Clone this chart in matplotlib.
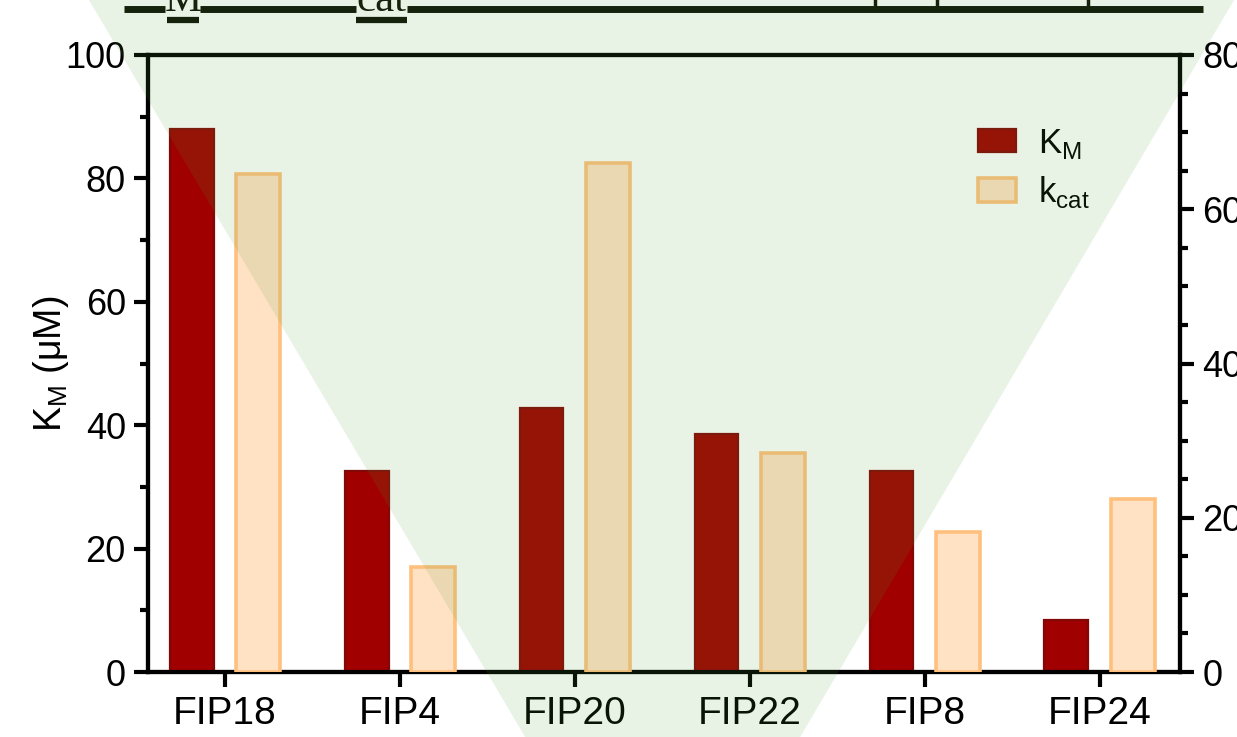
import numpy as np
import matplotlib
matplotlib.use("Agg")
from matplotlib import pyplot as plt
from matplotlib.patches import Polygon

plt.rcParams["font.family"] = ["Liberation Sans", "DejaVu Sans"]
plt.rcParams["mathtext.fontset"] = "custom"
plt.rcParams["mathtext.rm"] = "Liberation Sans"

c_km = "#A00000"
c_km_edge = "#820806"
c_kcat = "#FFE1C3"
c_kcat_edge = "#FFC07E"
c_shade = "#57A037"

variants = ["FIP18", "FIP4", "FIP20", "FIP22", "FIP8", "FIP24"]
km = [88.0, 32.6, 42.8, 38.6, 32.6, 8.4]        # K_M, uM (left axis)
kcat = [64.6, 13.6, 66.0, 28.4, 18.2, 22.4]     # k_cat (right axis)

W, H = 1237, 737
fig = plt.figure(figsize=(W / 100, H / 100), dpi=100)

def px(x, y):
    return (x / W, 1 - y / H)

ax = fig.add_axes([148 / W, 1 - 672 / H, (1180 - 148) / W, (672 - 55) / H])
ax2 = ax.twinx()

x = np.arange(len(variants))
bw = 0.25
off = 0.19
ax.bar(x - off, km, width=bw, color=c_km, edgecolor=c_km_edge, linewidth=1.6,
       label=r"K$_\mathregular{M}$", zorder=3)
ax2.bar(x + off, kcat, width=bw, color=c_kcat, edgecolor=c_kcat_edge, linewidth=2.6,
        label=r"k$_\mathregular{cat}$", zorder=3)

ax.set_xlim(-0.44, len(variants) - 1 + 0.46)
ax.set_ylim(0, 100)
ax2.set_ylim(0, 80)
ax.set_yticks(np.arange(0, 101, 20))
ax.set_yticks(np.arange(0, 101, 10), minor=True)
ax2.set_yticks(np.arange(0, 81, 20))
ax2.set_yticks(np.arange(0, 81, 5), minor=True)
ax.set_xticks(x)
ax.set_xticklabels(variants)

for a in (ax, ax2):
    for s in a.spines.values():
        s.set_linewidth(3)
    a.tick_params(which="major", length=10, width=3, labelsize=26, pad=6)
    a.tick_params(which="minor", length=6, width=3)
ax.tick_params(axis="x", length=11, labelsize=28)

ax.set_ylabel(r"K$_\mathregular{M}$ ($\mathregular{\mu}$M)", fontsize=27, labelpad=-4)

h1, l1 = ax.get_legend_handles_labels()
h2, l2 = ax2.get_legend_handles_labels()
ax2.legend(h1 + h2, l1 + l2, loc="upper left", bbox_to_anchor=(0.787, 0.912),
           frameon=False, fontsize=25, handlelength=1.1, handleheight=0.68,
           handletextpad=0.65, labelspacing=0.38, borderpad=0)

# strip of the panel above, cut off at the top edge
line_y = 8.5
for x0, x1 in [(124, 165), (200, 356), (407, 1203)]:
    fig.add_artist(plt.Line2D([x0 / W, x1 / W], [px(0, line_y)[1]] * 2,
                              color="#0c1208", linewidth=5, solid_capstyle="butt"))
for x0, x1 in [(167, 199), (356, 407)]:
    fig.add_artist(plt.Line2D([x0 / W, x1 / W], [px(0, 20)[1]] * 2,
                              color="#0c1208", linewidth=4.5, solid_capstyle="butt"))
for xv in [875, 937, 1088]:
    fig.add_artist(plt.Line2D([xv / W, xv / W], [px(0, -2)[1], px(0, line_y)[1]],
                              color="#0c1208", linewidth=2.5))
fig.text(183 / W, px(0, 11)[1], "M", family="Liberation Serif", fontsize=30,
         ha="center", va="baseline", color="#0c1208")
fig.text(381 / W, px(0, 11)[1], "cat", family="Liberation Serif", fontsize=31,
         ha="center", va="baseline", color="#0c1208")

# translucent green wedge over the whole figure
wedge = Polygon([px(86, -5), px(1237, -5), px(663, 970)], closed=True,
                transform=fig.transFigure, facecolor=c_shade, alpha=0.125,
                edgecolor="none", zorder=10)
fig.patches.append(wedge)

plt.savefig("out.png", dpi=100)
